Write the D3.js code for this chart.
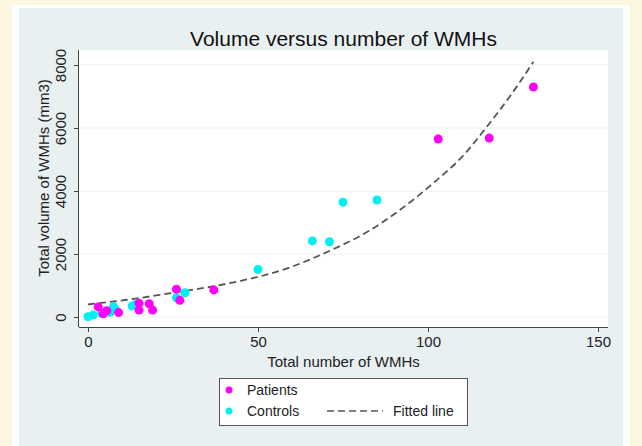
<!DOCTYPE html>
<html><head><meta charset="utf-8">
<script src="https://cdn.jsdelivr.net/npm/d3@7"></script>
<style>html,body{margin:0;padding:0;background:#fdf7e1;}svg{display:block;}</style>
</head><body>
<svg id="chart" width="642" height="446"></svg>
<script>
const title = "Volume versus number of WMHs";
const xLabel = "Total number of WMHs";
const yLabel = "Total volume of WMHs (mm3)";
const xTicks = [0, 50, 100, 150];
const yTicks = [0, 2000, 4000, 6000, 8000];

const patientsX = [3, 4.5, 5.5, 9, 15, 15, 18, 19, 26, 27, 37, 103, 118, 131];
const patientsY = [320, 100, 200, 140, 440, 220, 420, 220, 880, 530, 860, 5650, 5680, 7300];
const controlsX = [0, 1.5, 4, 6.5, 7.5, 8, 13, 14, 26, 28.5, 50, 66, 71, 75, 85];
const controlsY = [10, 60, 120, 150, 330, 250, 350, 400, 610, 770, 1510, 2415, 2390, 3645, 3715];
const fitX = [0, 11, 21, 45, 51, 59, 69, 83, 101, 111, 117, 124, 131];
const fitY = [400, 540, 700, 1150, 1300, 1560, 2000, 2760, 4200, 5200, 6000, 6990, 8100];

const svg = d3.select("#chart");
svg.append("rect").attr("x",0).attr("y",0).attr("width",642).attr("height",446).attr("fill","#fdf7e1");
svg.append("rect").attr("x",12).attr("y",5).attr("width",618).attr("height",441).attr("fill","#ffffff");
svg.append("rect").attr("x",19).attr("y",8).attr("width",604).attr("height",438).attr("fill","#e8f0f2");

const L = 79, R = 608, T = 50, B = 327;
svg.append("rect").attr("x",L).attr("y",T).attr("width",R-L).attr("height",B-T).attr("fill","#ffffff");

const x = d3.scaleLinear().domain([0,150]).range([88,598]);
const y = d3.scaleLinear().domain([0,8000]).range([317,65]);

svg.append("g").selectAll("line").data(yTicks).join("line")
  .attr("x1",L).attr("x2",R).attr("y1",d=>y(d)).attr("y2",d=>y(d))
  .attr("stroke","#eaf1f3").attr("stroke-width",1);

const font = "'Liberation Sans', Arial, Helvetica, sans-serif";
const fs = 15;

const xAxis = svg.append("g").attr("transform",`translate(0,${B})`)
  .call(d3.axisBottom(x).tickValues(xTicks).tickSize(5).tickSizeOuter(0).tickFormat(d3.format("d")));
xAxis.select(".domain").attr("d",`M${L},0.5H${R}`).attr("stroke","#444");
xAxis.selectAll(".tick line").attr("stroke","#444");
xAxis.selectAll("text").attr("font-family",font).attr("font-size",fs).attr("fill","#222").attr("dy","0.8em").attr("y",8);

const yAxis = svg.append("g").attr("transform",`translate(${L},0)`)
  .call(d3.axisLeft(y).tickValues(yTicks).tickSize(5).tickSizeOuter(0).tickFormat(d3.format("d")));
yAxis.select(".domain").attr("d",`M-0.5,${T}V${B}`).attr("stroke","#444");
yAxis.selectAll(".tick line").attr("stroke","#444");
yAxis.selectAll("text").attr("font-family",font).attr("font-size",fs).attr("fill","#222")
  .attr("x",null).attr("text-anchor","middle")
  .attr("transform","translate(-18,0) rotate(-90)").attr("dy","0.35em").attr("y",0);

const line = d3.line().x(d=>x(d[0])).y(d=>y(d[1])).curve(d3.curveMonotoneX);
svg.append("path").datum(fitX.map((v,i)=>[v,fitY[i]]))
  .attr("d",line).attr("fill","none").attr("stroke","#555").attr("stroke-width",1.8)
  .attr("stroke-dasharray","7,4");

svg.append("g").selectAll("circle").data(controlsX.map((v,i)=>[v,controlsY[i]])).join("circle")
  .attr("cx",d=>x(d[0])).attr("cy",d=>y(d[1])).attr("r",4.5).attr("fill","#00f0f0");
svg.append("g").selectAll("circle").data(patientsX.map((v,i)=>[v,patientsY[i]])).join("circle")
  .attr("cx",d=>x(d[0])).attr("cy",d=>y(d[1])).attr("r",4.5).attr("fill","#ff00ff");

svg.append("text").attr("x",343.5).attr("y",46).attr("text-anchor","middle")
  .attr("font-family",font).attr("font-size",21).attr("fill","#111").text(title);
svg.append("text").attr("x",343.5).attr("y",367).attr("text-anchor","middle")
  .attr("font-family",font).attr("font-size",fs).attr("fill","#222").text(xLabel);
svg.append("text").attr("transform","translate(49,178) rotate(-90)").attr("text-anchor","middle")
  .attr("font-family",font).attr("font-size",fs).attr("fill","#222").text(yLabel);

const lg = svg.append("g");
lg.append("rect").attr("x",219.5).attr("y",378.5).attr("width",248).attr("height",47)
  .attr("fill","#ffffff").attr("stroke","#555").attr("stroke-width",1);
const legendItems = [
  {label:"Patients", color:"#ff00ff", cy:390},
  {label:"Controls", color:"#00f0f0", cy:411}
];
legendItems.forEach(it=>{
  lg.append("circle").attr("cx",229).attr("cy",it.cy).attr("r",3.5).attr("fill",it.color);
  lg.append("text").attr("x",247).attr("y",it.cy).attr("dy","0.35em")
    .attr("font-family",font).attr("font-size",14).attr("fill","#222").text(it.label);
});
lg.append("line").attr("x1",327).attr("x2",383).attr("y1",411).attr("y2",411)
  .attr("stroke","#555").attr("stroke-width",1.5).attr("stroke-dasharray","7,4");
lg.append("text").attr("x",393).attr("y",411).attr("dy","0.35em")
  .attr("font-family",font).attr("font-size",14).attr("fill","#222").text("Fitted line");
</script>
</body></html>
